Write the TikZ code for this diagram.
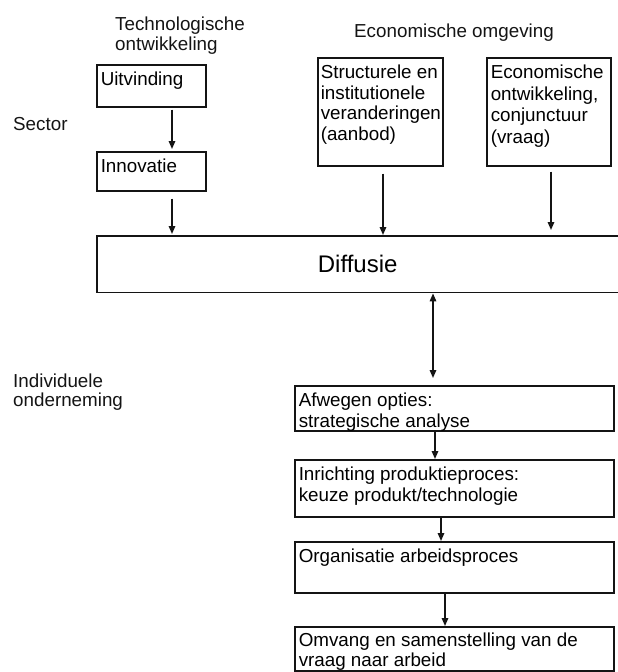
\documentclass[tikz,border=0pt]{standalone}
\usepackage{fontspec}
\setmainfont{Liberation Sans}
\usepackage{tikz}
\usetikzlibrary{arrows.meta, positioning, calc}
\definecolor{inkBlack}{gray}{0.08}

\newcommand{\boxtext}[3]{\parbox[t][#2][t]{#1}{\raggedright\rule{0pt}{17pt}#3}}

\tikzset{
  box/.style={draw=inkBlack, line width=1.5pt, inner xsep=4pt, inner ysep=4pt, anchor=north west},
  lbl/.style={inkBlack, inner sep=0pt, anchor=north west, align=left},
  arr/.style={-{Triangle[length=8pt,width=6.5pt]}, inkBlack, line width=1.5pt},
  dblarr/.style={{Triangle[length=8pt,width=6.5pt]}-{Triangle[length=8pt,width=6.5pt]}, inkBlack, line width=1.5pt},
}

\begin{document}
\begin{tikzpicture}[x=1pt, y=-1pt, font=\fontsize{18.8pt}{20.5pt}\selectfont]
    \useasboundingbox (0,0) rectangle (618,672);

    % Headings and side labels
    \node[lbl] (tech) at (115,16.5) {Technologische\\ontwikkeling};
    \node[lbl] (econhead) at (354,23.5) {Economische omgeving};
    \node[lbl] (sector) at (13,117.5) {Sector};
    \node[lbl, font=\fontsize{18.8pt}{19pt}\selectfont] (indiv) at (13,373.5) {Individuele\\onderneming};

    % Sector level
    \node[box] (uitv) at (96,64) {\boxtext{101pt}{34pt}{Uitvinding}};
    \node[box] (innov) at (96,151) {\boxtext{101pt}{31pt}{Innovatie}};
    \node[box, inner xsep=3pt] (struct) at (317,57) {\boxtext{119pt}{100pt}{Structurele en\\institutionele\\veranderingen\\(aanbod)}};
    \node[box, font=\fontsize{18.8pt}{21.5pt}\selectfont] (econ) at (486,57) {\boxtext{116pt}{100pt}{Economische\\ontwikkeling,\\conjunctuur\\(vraag)}};

    \node[anchor=north west, minimum width=521pt, minimum height=56pt, inner sep=0pt,
          font=\fontsize{24pt}{28pt}\selectfont] (diff) at (97,236) {Diffusie};
    \draw[inkBlack, line width=1.5pt] (diff.north east) -- (diff.north west) -- (diff.south west) -- (diff.south east);

    % Individual firm
    \node[box] (afw) at (294,385) {\boxtext{311pt}{37pt}{Afwegen opties:\\strategische analyse}};
    \node[box] (inr) at (294,459) {\boxtext{311pt}{49pt}{Inrichting produktieproces:\\keuze produkt/technologie}};
    \node[box] (org) at (294,541) {\boxtext{311pt}{43pt}{Organisatie arbeidsproces}};
    \node[box, font=\fontsize{18.8pt}{20pt}\selectfont] (omv) at (294,626) {\parbox[t][36pt][t]{311pt}{\raggedright\rule{0pt}{16pt}Omvang en samenstelling van de\\vraag naar arbeid}};

    % Arrows
    \draw[arr] ($(uitv.south west)+(76,2)$) -- ($(innov.north west)+(76,-2)$);
    \draw[arr] ($(innov.south west)+(76,7)$) -- ($(diff.north west)+(75,-2)$);
    \draw[arr] ($(struct.south west)+(66,7)$) -- ($(diff.north west)+(286,-1)$);
    \draw[arr] ($(econ.south west)+(65,5)$) -- ($(diff.north west)+(454,-6)$);
    \draw[dblarr] ($(diff.south west)+(336,1)$) -- ($(afw.north west)+(139,-7)$);
    \draw[arr] ($(afw.south west)+(141,0)$) -- ($(inr.north west)+(141,0)$);
    \draw[arr] ($(inr.south west)+(147,0)$) -- ($(org.north west)+(147,0)$);
    \draw[arr] ($(org.south west)+(151,0)$) -- ($(omv.north west)+(151,0)$);
\end{tikzpicture}
\end{document}
